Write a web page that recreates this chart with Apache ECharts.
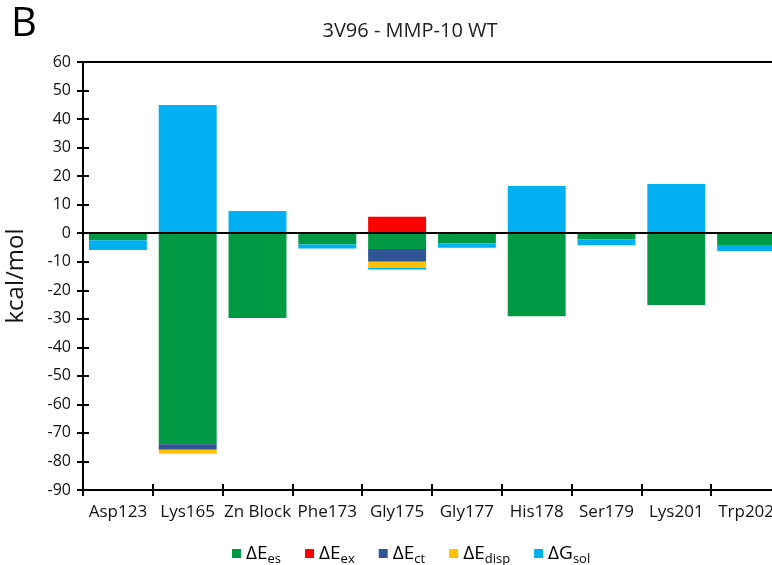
<!DOCTYPE html>
<html>
<head>
<meta charset="utf-8">
<script src="https://cdn.jsdelivr.net/npm/echarts@6/dist/echarts.min.js"></script>
<style>
  html, body { margin: 0; padding: 0; background: #fff; }
  #chart { width: 772px; height: 565px; }
</style>
</head>
<body>
<div id="chart"></div>
<script>
// residues on the x axis
let residues = ['Asp123', 'Lys165', 'Zn Block', 'Phe173', 'Gly175', 'Gly177', 'His178', 'Ser179', 'Lys201', 'Trp202'];

// energy terms, kcal/mol
let dEes   = [-2.5, -74.0, -29.7, -4.0, -5.5, -3.6, -29.1, -2.2, -25.2, -4.1];
let dEex   = [0, 0, 0, 0, 5.8, 0, 0, 0, 0, 0];
let dEct   = [0, -1.9, 0, 0, -4.5, 0, 0, 0, 0, 0];
let dEdisp = [0, -1.4, 0, 0, -2.1, 0, 0, 0, 0, 0];
let dGsol  = [-3.4, 44.9, 7.8, -1.4, -0.6, -1.5, 16.5, -2.0, 17.2, -2.1];

let yTicks = { min: -90, max: 60, step: 10 };

let font = '"Open Sans", sans-serif';

// legend labels with subscripts
let legendText = {
    'ΔEes': '{m|ΔE}{s|es}',
    'ΔEex': '{m|ΔE}{s|ex}',
    'ΔEct': '{m|ΔE}{s|ct}',
    'ΔEdisp': '{m|ΔE}{s|disp}',
    'ΔGsol': '{m|ΔG}{s|sol}'
};

function bar(name, values, color) {
    return {
        name: name,
        type: 'bar',
        stack: 'total',
        barCategoryGap: '17%',
        itemStyle: { color: color },
        data: values
    };
}

let series = [
    bar('ΔEes', dEes, '#009A44'),
    bar('ΔEex', dEex, '#FF0000'),
    bar('ΔEct', dEct, '#2F5597'),
    bar('ΔEdisp', dEdisp, '#FFC000'),
    bar('ΔGsol', dGsol, '#00B0F0')
];

// black line at zero
series[0].markLine = {
    silent: true,
    symbol: 'none',
    label: { show: false },
    lineStyle: { color: '#000', width: 2, type: 'solid' },
    data: [{ yAxis: 0 }]
};

let option = {
    animation: false,
    textStyle: { fontFamily: font },
    grid: {
        left: 83,
        top: 62,
        width: 698,
        height: 428,
        outerBoundsMode: 'none',
        containLabel: false,
        show: true,
        borderColor: '#000',
        borderWidth: 2
    },
    legend: {
        left: 227,
        top: 539,
        itemWidth: 9,
        itemHeight: 9,
        itemGap: 24,
        icon: 'rect',
        formatter: name => legendText[name],
        textStyle: {
            rich: {
                m: { fontSize: 19, color: '#000', fontFamily: font },
                s: { fontSize: 13, color: '#000', fontFamily: font, padding: [11, 0, 0, 0] }
            }
        },
        data: ['ΔEes', 'ΔEex', 'ΔEct', 'ΔEdisp', 'ΔGsol']
    },
    graphic: [
        {
            type: 'text',
            left: 11,
            top: 5,
            style: { text: 'B', font: '40px ' + font, fill: '#000' }
        },
        {
            type: 'text',
            x: 410,
            y: 31,
            style: {
                text: '3V96 - MMP-10 WT',
                font: '20px ' + font,
                fill: '#222',
                align: 'center',
                verticalAlign: 'middle'
            }
        }
    ],
    xAxis: [
        {
            type: 'category',
            position: 'bottom',
            data: residues,
            axisLine: { onZero: false, lineStyle: { color: '#000', width: 2 } },
            axisTick: { show: true, length: 6, lineStyle: { color: '#000', width: 2 } },
            axisLabel: { color: '#111', fontSize: 17, margin: 14, interval: 0 }
        },
        {
            type: 'category',
            position: 'bottom',
            data: residues,
            axisLine: { show: false, onZero: false },
            axisTick: { show: true, inside: true, length: 6, lineStyle: { color: '#000', width: 2 } },
            axisLabel: { show: false }
        }
    ],
    yAxis: [
        {
            type: 'value',
            position: 'left',
            min: yTicks.min,
            max: yTicks.max,
            interval: yTicks.step,
            name: 'kcal/mol',
            nameLocation: 'middle',
            nameRotate: 90,
            nameGap: 55,
            nameTextStyle: { fontSize: 24, color: '#111' },
            splitLine: { show: false },
            axisLine: { show: true, lineStyle: { color: '#000', width: 2 } },
            axisTick: { show: true, length: 6, lineStyle: { color: '#000', width: 2 } },
            axisLabel: { color: '#111', fontSize: 16, margin: 12 }
        },
        {
            type: 'value',
            position: 'left',
            min: yTicks.min,
            max: yTicks.max,
            interval: yTicks.step,
            splitLine: { show: false },
            axisLine: { show: false },
            axisTick: { show: true, inside: true, length: 6, lineStyle: { color: '#000', width: 2 } },
            axisLabel: { show: false }
        }
    ],
    series: series
};

let chart = echarts.init(document.getElementById('chart'));
chart.setOption(option);
</script>
</body>
</html>
